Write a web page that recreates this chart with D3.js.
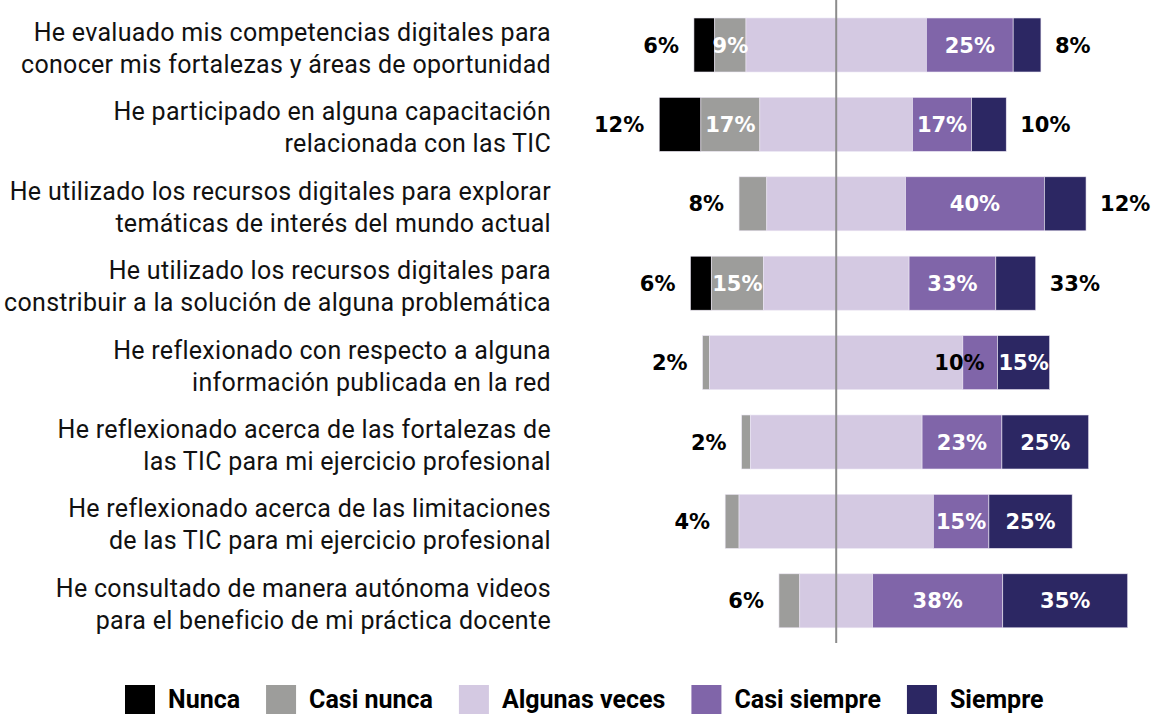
<!DOCTYPE html>
<html>
<head>
<meta charset="utf-8">
<script src="https://cdn.jsdelivr.net/npm/d3@7"></script>
<style>
  body { margin: 0; background: #fff; }
  svg { display: block; }
</style>
</head>
<body>
<svg id="chart" width="1155" height="716"></svg>
<script>
// categories (two lines each)
const categories = [
  ["He evaluado mis competencias digitales para", "conocer mis fortalezas y áreas de oportunidad"],
  ["He participado en alguna capacitación", "relacionada con las TIC"],
  ["He utilizado los recursos digitales para explorar", "temáticas de interés del mundo actual"],
  ["He utilizado los recursos digitales para", "constribuir a la solución de alguna problemática"],
  ["He reflexionado con respecto a alguna", "información publicada en la red"],
  ["He reflexionado acerca de las fortalezas de", "las TIC para mi ejercicio profesional"],
  ["He reflexionado acerca de las limitaciones", "de las TIC para mi ejercicio profesional"],
  ["He consultado de manera autónoma videos", "para el beneficio de mi práctica docente"]
];

const seriesNames = ["Nunca", "Casi nunca", "Algunas veces", "Casi siempre", "Siempre"];
const colors = ["#000000", "#9d9d9b", "#d4c9e2", "#8065a9", "#2c2763"];

// bar lengths (%)
const nunca       = [6, 12, 0, 6, 0, 0, 0, 0];
const casiNunca   = [9, 17, 8, 15, 2, 2.5, 4, 6];
const algunas     = [52, 44, 40, 42, 73, 49.5, 56, 21];
const casiSiempre = [25, 17, 40, 25, 10, 23, 16, 37.5];
const siempre     = [8, 10, 12, 11.5, 15, 25, 24, 36];

// printed labels (as shown on the chart)
const nuncaLbl       = ["6%", "12%", "", "6%", "", "", "", ""];
const casiNuncaLbl   = ["9%", "17%", "8%", "15%", "2%", "2%", "4%", "6%"];
const casiSiempreLbl = ["25%", "17%", "40%", "33%", "10%", "23%", "15%", "38%"];
const siempreLbl     = ["8%", "10%", "12%", "33%", "15%", "25%", "25%", "35%"];

const svg = d3.select("#chart");

let x = d3.scaleLinear().domain([-60, 90]).range([628, 1148.5]);
let y = d3.scaleBand()
  .domain(d3.range(categories.length))
  .range([5.3, 640.5])
  .paddingInner(0.32)
  .paddingOuter(0.16);

// build segments: light segment is split around zero
let rows = categories.map(function (c, i) {
  let vals = [nunca[i], casiNunca[i], algunas[i], casiSiempre[i], siempre[i]];
  let start = -(vals[0] + vals[1] + vals[2] / 2);
  let segs = [];
  vals.forEach(function (v, k) {
    segs.push({ row: i, k: k, x0: start, x1: start + v });
    start += v;
  });
  return segs;
});

let segs = rows.flat().filter(d => d.x1 > d.x0);

svg.append("g").attr("class", "bars")
  .selectAll("rect")
  .data(segs)
  .join("rect")
  .attr("x", d => x(d.x0))
  .attr("y", d => y(d.row))
  .attr("width", d => x(d.x1) - x(d.x0))
  .attr("height", y.bandwidth())
  .attr("fill", d => colors[d.k])
  .attr("stroke", "#ece6f3")
  .attr("stroke-width", 0.6);

// zero line
svg.append("line")
  .attr("x1", x(0)).attr("x2", x(0))
  .attr("y1", 0).attr("y2", 643)
  .attr("stroke", "#8c8c8c")
  .attr("stroke-width", 2);

// value labels
let labels = [];
rows.forEach(function (s, i) {
  let cy = y(i) + y.bandwidth() / 2;
  if (nunca[i] > 0) {
    labels.push({ x: x(s[0].x0) - 15, y: cy, t: nuncaLbl[i], anchor: "end", fill: "#000" });
    labels.push({ x: x((s[1].x0 + s[1].x1) / 2), y: cy, t: casiNuncaLbl[i], anchor: "middle", fill: "#fff" });
  } else {
    labels.push({ x: x(s[1].x0) - 15, y: cy, t: casiNuncaLbl[i], anchor: "end", fill: "#000" });
  }
  let wMid = x(s[3].x1) - x(s[3].x0);
  if (wMid < 40) {
    labels.push({ x: x(s[3].x1) - 13, y: cy, t: casiSiempreLbl[i], anchor: "end", fill: "#000" });
  } else {
    labels.push({ x: x((s[3].x0 + s[3].x1) / 2), y: cy, t: casiSiempreLbl[i], anchor: "middle", fill: "#fff" });
  }
  let wTop = x(s[4].x1) - x(s[4].x0);
  if (wTop < 45) {
    labels.push({ x: x(s[4].x1) + 14, y: cy, t: siempreLbl[i], anchor: "start", fill: "#000" });
  } else {
    labels.push({ x: x((s[4].x0 + s[4].x1) / 2), y: cy, t: siempreLbl[i], anchor: "middle", fill: "#fff" });
  }
});

svg.append("g").attr("class", "values")
  .selectAll("text")
  .data(labels)
  .join("text")
  .attr("x", d => d.x)
  .attr("y", d => d.y)
  .attr("dy", "0.36em")
  .attr("text-anchor", d => d.anchor)
  .attr("fill", d => d.fill)
  .style("font-family", "'DejaVu Sans', sans-serif")
  .style("font-weight", "bold")
  .style("font-size", "21px")
  .text(d => d.t);

// category labels
let cat = svg.append("g").attr("class", "cats")
  .selectAll("text")
  .data(categories)
  .join("text")
  .attr("text-anchor", "end")
  .attr("fill", "#111")
  .style("font-family", "Roboto, sans-serif")
  .style("font-size", "25px")
  .style("letter-spacing", "0.3px");

cat.selectAll("tspan")
  .data((d, i) => d.map((line, j) => ({ line: line, i: i, j: j })))
  .join("tspan")
  .attr("x", 551)
  .attr("y", d => y(d.i) + y.bandwidth() / 2 - 4 + d.j * 32)
  .text(d => d.line);

// legend
let legend = svg.append("g").attr("class", "legend");
let lx = 125;
seriesNames.forEach(function (name, k) {
  legend.append("rect")
    .attr("x", lx).attr("y", 685)
    .attr("width", 30).attr("height", 29)
    .attr("fill", colors[k]);
  let t = legend.append("text")
    .attr("x", lx + 43).attr("y", 708)
    .attr("fill", "#000")
    .style("font-family", "Roboto, sans-serif")
    .style("font-weight", "bold")
    .style("font-size", "25px")
    .text(name);
  lx += 43 + t.node().getComputedTextLength() + 26;
});
</script>
</body>
</html>
